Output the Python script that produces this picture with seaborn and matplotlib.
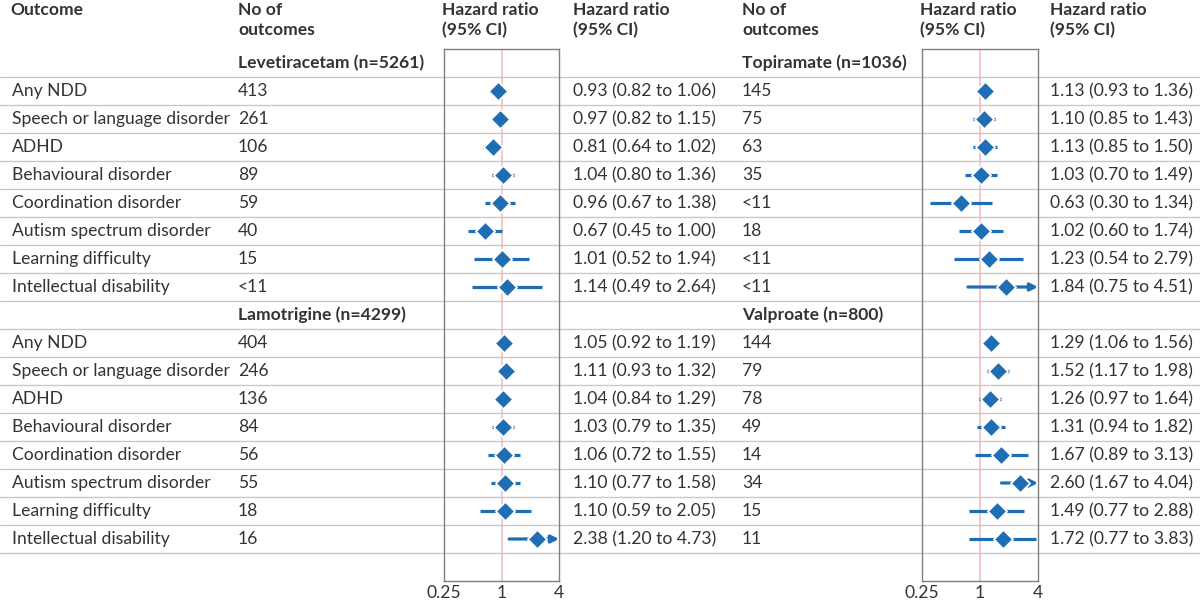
import numpy as np
import pandas as pd
import matplotlib
matplotlib.use('Agg')
import matplotlib.pyplot as plt
import seaborn as sns

# ---- data ----
outcomes = ['Any NDD', 'Speech or language disorder', 'ADHD', 'Behavioural disorder',
            'Coordination disorder', 'Autism spectrum disorder', 'Learning difficulty',
            'Intellectual disability']

drugs_left = ['Levetiracetam (n=5261)', 'Lamotrigine (n=4299)']
drugs_right = ['Topiramate (n=1036)', 'Valproate (n=800)']

lev_n = ['413', '261', '106', '89', '59', '40', '15', '<11']
lev_hr = [0.93, 0.97, 0.81, 1.04, 0.96, 0.67, 1.01, 1.14]
lev_lo = [0.82, 0.82, 0.64, 0.80, 0.67, 0.45, 0.52, 0.49]
lev_hi = [1.06, 1.15, 1.02, 1.36, 1.38, 1.00, 1.94, 2.64]

lam_n = ['404', '246', '136', '84', '56', '55', '18', '16']
lam_hr = [1.05, 1.11, 1.04, 1.03, 1.06, 1.10, 1.10, 2.38]
lam_lo = [0.92, 0.93, 0.84, 0.79, 0.72, 0.77, 0.59, 1.20]
lam_hi = [1.19, 1.32, 1.29, 1.35, 1.55, 1.58, 2.05, 4.73]

top_n = ['145', '75', '63', '35', '<11', '18', '<11', '<11']
top_hr = [1.13, 1.10, 1.13, 1.03, 0.63, 1.02, 1.23, 1.84]
top_lo = [0.93, 0.85, 0.85, 0.70, 0.30, 0.60, 0.54, 0.75]
top_hi = [1.36, 1.43, 1.50, 1.49, 1.34, 1.74, 2.79, 4.51]

val_n = ['144', '79', '78', '49', '14', '34', '15', '11']
val_hr = [1.29, 1.52, 1.26, 1.31, 1.67, 2.60, 1.49, 1.72]
val_lo = [1.06, 1.17, 0.97, 0.94, 0.89, 1.67, 0.77, 0.77]
val_hi = [1.56, 1.98, 1.64, 1.82, 3.13, 4.04, 2.88, 3.83]

xticks = [0.25, 1, 4]
xticklabels = ['0.25', '1', '4']


def build_panel(groups):
    """groups: list of (n, hr, lo, hi); returns long table with row index"""
    frames = []
    for g, (n, hr, lo, hi) in enumerate(groups):
        rows = np.arange(len(outcomes)) + 1 + g * (len(outcomes) + 1)
        frames.append(pd.DataFrame({'row': rows, 'outcome': outcomes, 'n': n,
                                    'hr': hr, 'lo': lo, 'hi': hi}))
    return pd.concat(frames, ignore_index=True)


left = build_panel([(lev_n, lev_hr, lev_lo, lev_hi), (lam_n, lam_hr, lam_lo, lam_hi)])
right = build_panel([(top_n, top_hr, top_lo, top_hi), (val_n, val_hr, val_lo, val_hi)])

# ---- style ----
sns.set_style('white')
plt.rcParams['font.family'] = ['Lato', 'DejaVu Sans']
TXT = '#333333'
BLUE = '#1f6db3'
GRID = '#c9c9c9'
FS = 12.6

W, H = 1200, 604
ROW0, ROWH = 63, 28          # pixel centre of row 0 and row height
nrows = 2 * (len(outcomes) + 1) + 1


def ypix(r):
    return ROW0 + ROWH * r


fig = plt.figure(figsize=(12, 6.04), dpi=100)
bg = fig.add_axes([0, 0, 1, 1])
bg.set_xlim(0, W)
bg.set_ylim(H, 0)
bg.axis('off')

# horizontal rules between rows
for r in range(len(outcomes) * 2 + 2):
    bg.axhline(ypix(r + 0.5), color=GRID, lw=1, zorder=0)

cols = {'left': dict(n=238, plot=444, hr=573, plot_w=115),
        'right': dict(n=742, plot=922, hr=1050, plot_w=116)}

# header
hdr = dict(fontsize=FS, fontweight='bold', color=TXT, va='center', ha='left')
bg.text(10, 10, 'Outcome', **hdr)
for side in ['left', 'right']:
    c = cols[side]
    bg.text(c['n'], 10, 'No of', **hdr)
    bg.text(c['n'], 30, 'outcomes', **hdr)
    bg.text(c['plot'] - 2, 10, 'Hazard ratio', **hdr)
    bg.text(c['plot'] - 2, 30, '(95% CI)', **hdr)
    bg.text(c['hr'], 10, 'Hazard ratio', **hdr)
    bg.text(c['hr'], 30, '(95% CI)', **hdr)

# drug group labels
for side, drugs in [('left', drugs_left), ('right', drugs_right)]:
    for g, d in enumerate(drugs):
        bg.text(cols[side]['n'], ypix(g * (len(outcomes) + 1)), d, **hdr)

# table text
body = dict(fontsize=FS, color=TXT, va='center', ha='left')
for _, rw in left.iterrows():
    bg.text(12, ypix(rw['row']), rw['outcome'], **body)
for side, df in [('left', left), ('right', right)]:
    for _, rw in df.iterrows():
        y = ypix(rw['row'])
        bg.text(cols[side]['n'], y, rw['n'], **body)
        bg.text(cols[side]['hr'], y,
                f"{rw['hr']:.2f} ({rw['lo']:.2f} to {rw['hi']:.2f})", **body)

# forest plots
top_px = ypix(-0.5)
bot_px = ypix(nrows - 0.5)
for side, df in [('left', left), ('right', right)]:
    c = cols[side]
    ax = fig.add_axes([c['plot'] / W, 1 - bot_px / H, c['plot_w'] / W, (bot_px - top_px) / H])
    ax.patch.set_alpha(0)
    ax.set_xscale('log', base=2)
    ax.set_xlim(0.25, 4)
    ax.set_ylim(nrows - 0.5, -0.5)
    ax.axvline(1, color='#f2b8bf', lw=1.1, zorder=1)

    inside = df[df['hi'] <= 4]
    outside = df[df['hi'] > 4]
    ax.hlines(inside['row'], inside['lo'], inside['hi'], color=BLUE, lw=2.3, zorder=2)
    for _, rw in outside.iterrows():
        ax.annotate('', xy=(4, rw['row']), xytext=(rw['lo'], rw['row']),
                    arrowprops=dict(arrowstyle='-|>', color=BLUE, lw=2.3,
                                    mutation_scale=11, shrinkA=0, shrinkB=0),
                    zorder=2)
    sns.scatterplot(data=df, x='hr', y='row', marker='D', s=95, color=BLUE,
                    edgecolor='white', linewidth=1.3, ax=ax, zorder=3, legend=False)

    ax.set_xticks(xticks)
    ax.set_xticklabels(xticklabels)
    ax.minorticks_off()
    ax.set_yticks([])
    ax.set(xlabel=None, ylabel=None)
    ax.tick_params(axis='x', length=0, pad=3, labelsize=FS, labelcolor=TXT)
    for sp in ax.spines.values():
        sp.set_color('#7f7f7f')
        sp.set_linewidth(1)

fig.savefig('out.png', dpi=100)
